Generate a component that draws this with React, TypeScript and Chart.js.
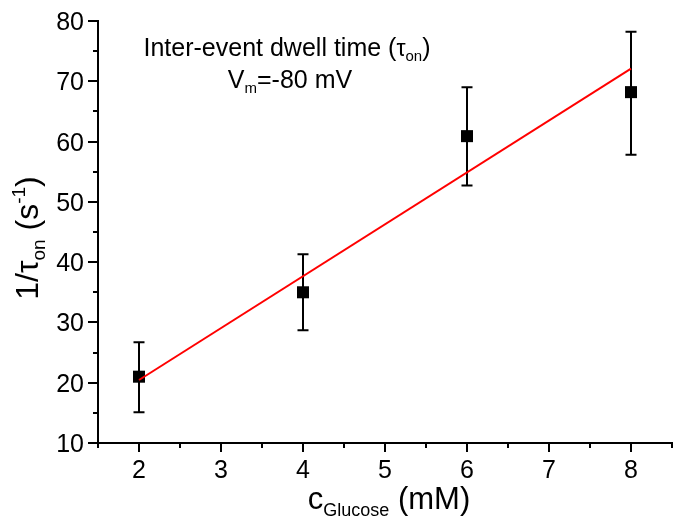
import React, { useEffect, useRef } from 'react';
import { Chart, registerables } from 'chart.js';

Chart.register(...registerables);

// ---- data ----
const concentrations = [2, 4, 6, 8];
const rates = [21.0, 35.0, 60.9, 68.2];
const errLow = [15.1, 28.7, 52.7, 57.8];
const errHigh = [26.7, 41.3, 69.0, 78.2];
const fitX = [2, 8];
const fitY = [20.45, 72.1];
const xMajorTicks = [2, 3, 4, 5, 6, 7, 8];
const yMajorTicks = [10, 20, 30, 40, 50, 60, 70, 80];

const FONT = '"Liberation Sans", Arial, sans-serif';

type Seg = { t: string; size: number; dy?: number };

function drawRich(ctx: CanvasRenderingContext2D, segs: Seg[], cx: number, baseY: number) {
  let total = 0;
  const widths = segs.map((s) => {
    ctx.font = `${s.size}px ${FONT}`;
    const w = ctx.measureText(s.t).width;
    total += w;
    return w;
  });
  let x = cx - total / 2;
  ctx.textAlign = 'left';
  ctx.textBaseline = 'alphabetic';
  segs.forEach((s, i) => {
    ctx.font = `${s.size}px ${FONT}`;
    ctx.fillText(s.t, x, baseY + (s.dy || 0));
    x += widths[i];
  });
}

const decorPlugin = {
  id: 'decor',
  beforeDatasetsDraw(chart: any) {
    const ctx = chart.ctx as CanvasRenderingContext2D;
    const xs = chart.scales.x;
    const ys = chart.scales.y;
    ctx.save();
    ctx.strokeStyle = '#000';
    ctx.lineWidth = 2;
    concentrations.forEach((c, i) => {
      const px = xs.getPixelForValue(c);
      const top = ys.getPixelForValue(errHigh[i]);
      const bot = ys.getPixelForValue(errLow[i]);
      ctx.beginPath();
      ctx.moveTo(px, top);
      ctx.lineTo(px, bot);
      ctx.moveTo(px - 5.5, top);
      ctx.lineTo(px + 5.5, top);
      ctx.moveTo(px - 5.5, bot);
      ctx.lineTo(px + 5.5, bot);
      ctx.stroke();
    });
    ctx.restore();
  },
  afterDraw(chart: any) {
    const ctx = chart.ctx as CanvasRenderingContext2D;
    const xs = chart.scales.x;
    const ys = chart.scales.y;
    const area = chart.chartArea;
    ctx.save();
    ctx.strokeStyle = '#000';
    ctx.fillStyle = '#000';
    ctx.lineWidth = 2;
    // x ticks + labels
    for (let v = xs.min; v <= xs.max + 1e-9; v += 0.5) {
      const px = Math.round(xs.getPixelForValue(v));
      const major = xMajorTicks.includes(v);
      ctx.beginPath();
      ctx.moveTo(px, area.bottom);
      ctx.lineTo(px, area.bottom + (major ? 9 : 5));
      ctx.stroke();
    }
    ctx.font = `25px ${FONT}`;
    ctx.textAlign = 'center';
    ctx.textBaseline = 'alphabetic';
    xMajorTicks.forEach((v) => {
      ctx.fillText(String(v), xs.getPixelForValue(v), area.bottom + 35);
    });
    // y ticks + labels
    for (let v = ys.min; v <= ys.max + 1e-9; v += 5) {
      const py = Math.round(ys.getPixelForValue(v));
      const major = yMajorTicks.includes(v);
      ctx.beginPath();
      ctx.moveTo(area.left, py);
      ctx.lineTo(area.left - (major ? 10 : 5), py);
      ctx.stroke();
    }
    ctx.textAlign = 'right';
    yMajorTicks.forEach((v) => {
      ctx.fillText(String(v), area.left - 14, ys.getPixelForValue(v) + 9);
    });
    // x title
    drawRich(
      ctx,
      [
        { t: 'c', size: 31 },
        { t: 'Glucose', size: 18, dy: 7 },
        { t: ' (mM)', size: 31 },
      ],
      (area.left + area.right) / 2 + 4,
      509
    );
    // y title
    ctx.save();
    ctx.translate(38, 238);
    ctx.rotate(-Math.PI / 2);
    drawRich(
      ctx,
      [
        { t: '1/τ', size: 32 },
        { t: 'on', size: 19, dy: 7 },
        { t: ' (s', size: 32 },
        { t: '-1', size: 19, dy: -13 },
        { t: ')', size: 32 },
      ],
      0,
      0
    );
    ctx.restore();
    // annotation
    drawRich(
      ctx,
      [
        { t: 'Inter-event dwell time (', size: 25 },
        { t: 'τ', size: 23 },
        { t: 'on', size: 15, dy: 5 },
        { t: ')', size: 25 },
      ],
      287,
      56
    );
    drawRich(
      ctx,
      [
        { t: 'V', size: 25 },
        { t: 'm', size: 15, dy: 5 },
        { t: '=-80 mV', size: 25 },
      ],
      290,
      88
    );
    ctx.restore();
  },
};

export default function App() {
  const ref = useRef<HTMLCanvasElement>(null);
  useEffect(() => {
    if (!ref.current) return;
    const chart = new Chart(ref.current, {
      type: 'line',
      data: {
        datasets: [
          {
            label: 'fit',
            data: fitX.map((x, i) => ({ x, y: fitY[i] })),
            borderColor: '#ff0000',
            borderWidth: 2,
            pointRadius: 0,
            fill: false,
            order: 0,
          },
          {
            label: 'data',
            data: concentrations.map((x, i) => ({ x, y: rates[i] })),
            showLine: false,
            pointStyle: 'rect',
            pointRadius: 8.5,
            pointBackgroundColor: '#000',
            pointBorderColor: '#000',
            pointBorderWidth: 0,
            order: 1,
          },
        ],
      },
      options: {
        responsive: false,
        animation: false,
        layout: { autoPadding: false, padding: { left: 0, right: 4, top: 21, bottom: 0 } },
        plugins: { legend: { display: false }, tooltip: { enabled: false }, title: { display: false } },
        scales: {
          x: {
            type: 'linear',
            min: 1.5,
            max: 8.5,
            grid: { display: false },
            border: { display: true, color: '#000', width: 2 },
            ticks: { display: false, stepSize: 0.5 },
            afterFit: (s: any) => {
              s.height = 74;
            },
          },
          y: {
            type: 'linear',
            min: 10,
            max: 80,
            grid: { display: false },
            border: { display: true, color: '#000', width: 2 },
            ticks: { display: false, stepSize: 10 },
            afterFit: (s: any) => {
              s.width = 98;
            },
          },
        },
      },
      plugins: [decorPlugin],
    });
    return () => chart.destroy();
  }, []);
  return (
    <div style={{ position: 'absolute', left: 0, top: 0, background: '#fff' }}>
      <canvas ref={ref} width={676} height={517} />
    </div>
  );
}
